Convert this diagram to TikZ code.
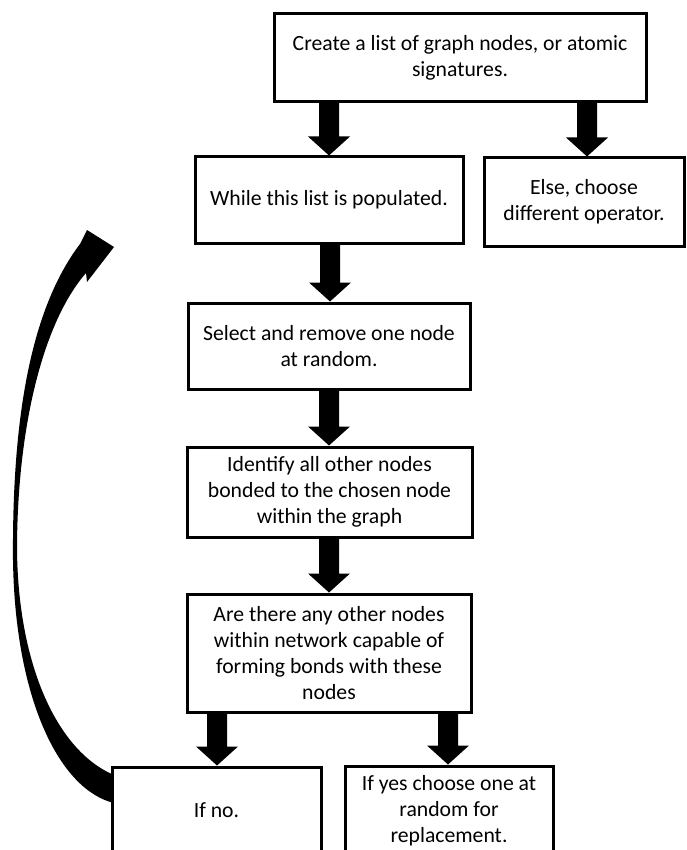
\documentclass[tikz,border=0pt]{standalone}
\usepackage{fontspec}
\setmainfont{Carlito}
\usetikzlibrary{calc}

% Thick block arrow pointing down: #1 = x position, #2 = source node, #3 = target node
\newcommand\flowarrow[3]{%
  \coordinate (fa-x) at (#1,0);
  \coordinate (fa-s) at (fa-x |- #2.south);
  \coordinate (fa-e) at (fa-x |- #3.north);
  \fill[arrowfill] ($(fa-s)+(-10,-1)$) -- ($(fa-e)+(-10,-19)$) -- ($(fa-e)+(-21,-19)$)
    -- (fa-e) -- ($(fa-e)+(21,-19)$) -- ($(fa-e)+(10,-19)$) -- ($(fa-s)+(10,-1)$) -- cycle;
}

\begin{document}
\begin{tikzpicture}[x=1pt,y=-1pt,
  box/.style={draw=black, line width=3pt, fill=white, align=center,
    inner sep=0pt, font=\fontsize{21.7}{26}\selectfont},
  arrowfill/.style={fill=black},
]
\clip (0,0) rectangle (686,850);
\useasboundingbox (0,0) rectangle (686,850);
\fill[white] (0,0) rectangle (686,850);

% curved return arrow, from "If no." back up towards the loop test
\fill[arrowfill]
  (114,803) .. controls (60,790) and (15,700) .. (13,560)
            .. controls (12,420) and (30,310) .. (80,244)
  -- (87,230) -- (114,247) -- (87,282) -- (86,273)
  .. controls (45,320) and (18,420) .. (17,545)
  .. controls (17,660) and (55,750) .. (114,775)
  -- cycle;

\node[box, minimum width=372pt, minimum height=88pt] (top) at (460,58)
  {Create a list of graph nodes, or atomic\\signatures.};
\node[box, minimum width=268pt, minimum height=86pt] (while) at (329,200)
  {While this list is populated.};
\node[box, minimum width=200pt, minimum height=88pt] (else) at (584,202)
  {Else, choose\\different operator.};
\node[box, minimum width=282pt, minimum height=86pt] (select) at (329,346)
  {Select and remove one node\\at random.};
\node[box, minimum width=285pt, minimum height=90pt] (identify) at (329.5,492)
  {Identify all other nodes\\bonded to the chosen node\\within the graph};
\node[box, minimum width=284pt, minimum height=118pt] (are) at (329,653)
  {Are there any other nodes\\within network capable of\\forming bonds with these\\nodes};
\node[box, minimum width=209pt, minimum height=86pt] (no) at (216.5,810)
  {If no.};
\node[box, minimum width=208pt, minimum height=90pt] (yes) at (449,811)
  {If yes choose one at\\random for\\replacement.};

\flowarrow{329}{top}{while}
\flowarrow{587}{top}{else}
\flowarrow{330}{while}{select}
\flowarrow{329}{select}{identify}
\flowarrow{329}{identify}{are}
\flowarrow{217}{are}{no}
\flowarrow{448}{are}{yes}
\end{tikzpicture}
\end{document}
